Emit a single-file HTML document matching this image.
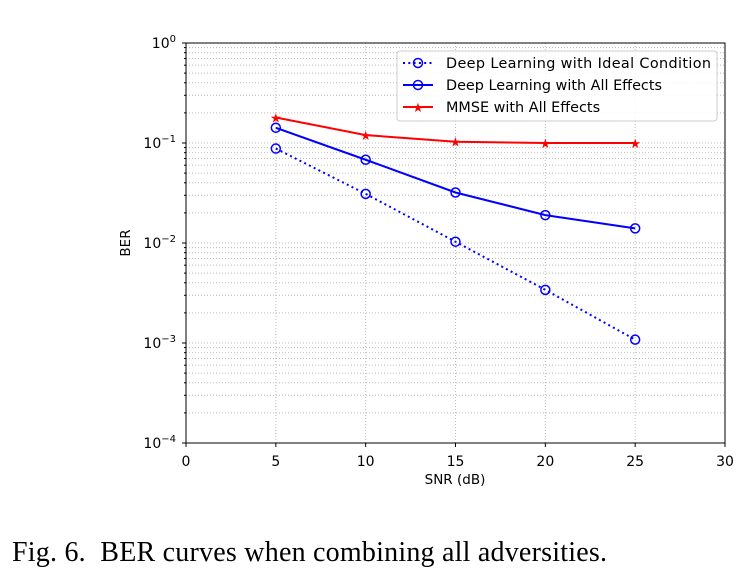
<!DOCTYPE html>
<html><head><meta charset="utf-8"><style>
body{margin:0;background:#fff;}
svg text{font-family:"DejaVu Sans",sans-serif;}
</style></head><body>
<svg id="c" width="750" height="580" xmlns="http://www.w3.org/2000/svg">
<g id="grid"></g>
<g id="series"></g>
<rect x="186" y="43" width="539" height="400" fill="none" stroke="#000" stroke-width="1"/>
<g id="ticks"></g>
<text x="455" y="484" font-size="13.5" text-anchor="middle">SNR (dB)</text>
<text x="130" y="243" font-size="13.5" text-anchor="middle" transform="rotate(-90 130 243)">BER</text>
<g>
<rect x="397" y="51" width="320" height="70" rx="3" fill="#fff" fill-opacity="0.85" stroke="#ccc"/>
<g>
<line x1="403" y1="63" x2="433" y2="63" stroke="#00f" stroke-width="2" stroke-dasharray="2,3.3"/>
<circle cx="418" cy="63" r="4.5" fill="none" stroke="#00f" stroke-width="1.5"/>
<text x="446" y="68" font-size="14.4" textLength="265">Deep Learning with Ideal Condition</text></g>
<g>
<line x1="403" y1="85" x2="433" y2="85" stroke="#00f" stroke-width="2"/>
<circle cx="418" cy="85" r="4.5" fill="none" stroke="#00f" stroke-width="1.5"/>
<text x="446" y="90" font-size="14.4">Deep Learning with All Effects</text></g>
<g>
<line x1="403" y1="107" x2="433" y2="107" stroke="#f00" stroke-width="2"/>
<text x="418" y="112" font-size="13" fill="#f00" text-anchor="middle">★</text>
<text x="446" y="112" font-size="14.4">MMSE with All Effects</text></g>
</g>
<text x="12" y="561" font-size="28" style="font-family:'Liberation Serif',serif;white-space:pre" textLength="595">Fig. 6.  BER curves when combining all adversities.</text>
</svg>
<script>
const snr=[5,10,15,20,25];
const berIdeal=[0.088,0.031,0.0103,0.0034,0.00108];
const berDlAll=[0.142,0.068,0.032,0.019,0.014];
const berMmse=[0.18,0.12,0.103,0.1,0.1];
const xTicks=[0,5,10,15,20,25,30];
const yDecades=[0,-1,-2,-3,-4];
const NS="http://www.w3.org/2000/svg";
const X=v=>186+(v/30)*539;
const Y=v=>43+(-Math.log10(v))*100;
function mk(t,a,p){const e=document.createElementNS(NS,t);for(const k in a)e.setAttribute(k,a[k]);p.appendChild(e);return e;}
const grid=document.getElementById('grid'),ticks=document.getElementById('ticks'),ser=document.getElementById('series');
xTicks.forEach(v=>{
 if(v>0&&v<30){const g=mk('line',{x1:X(v),x2:X(v),y1:43,y2:443,stroke:'#bbb','stroke-dasharray':'1,2','stroke-width':1},grid);
 }
 mk('line',{x1:X(v),x2:X(v),y1:443,y2:447,stroke:'#000'},ticks);
 const t=mk('text',{x:X(v),y:466,'font-size':14,'text-anchor':'middle'},ticks);t.textContent=v;
 
});
yDecades.forEach(d=>{
 const y=Y(Math.pow(10,d));
 if(d<0&&d>-4){const g=mk('line',{x1:186,x2:725,y1:y,y2:y,stroke:'#bbb','stroke-dasharray':'1,2'},grid);
 }
 mk('line',{x1:182,x2:186,y1:y,y2:y,stroke:'#000'},ticks);
 const t=mk('text',{x:176,y:y+5,'font-size':14,'text-anchor':'end'},ticks);
 
 t.textContent='10';const s=mk('tspan',{dy:-6,'font-size':10},t);s.textContent=(d===0?'0':'−'+(-d));
 if(d>-4){for(let m=2;m<10;m++){const yy=Y(m*Math.pow(10,d-1));
  const g=mk('line',{x1:186,x2:725,y1:yy,y2:yy,stroke:'#bbb','stroke-dasharray':'1,2'},grid);
  
  mk('line',{x1:184,x2:186,y1:yy,y2:yy,stroke:'#000'},ticks);}}
});
function series(vals,color,dash,marker,name){
 const pts=snr.map((s,i)=>X(s)+','+Y(vals[i])).join(' ');
 const pl=mk('polyline',{points:pts,fill:'none',stroke:color,'stroke-width':2,'stroke-dasharray':dash||'none'},ser);
 
 snr.forEach((s,i)=>{
  if(marker==='o'){const c=mk('circle',{cx:X(s),cy:Y(vals[i]),r:4.5,fill:'none',stroke:color,'stroke-width':1.5},ser);
   }
  else{const t=mk('text',{x:X(s),y:Y(vals[i])+5,'font-size':13,fill:color,'text-anchor':'middle'},ser);t.textContent='★';
   }
 });
}
series(berIdeal,'#00f','2,3.3','o','ideal');
series(berDlAll,'#00f',null,'o','dl-all');
series(berMmse,'#f00',null,'*','mmse');
</script>
</body></html>
